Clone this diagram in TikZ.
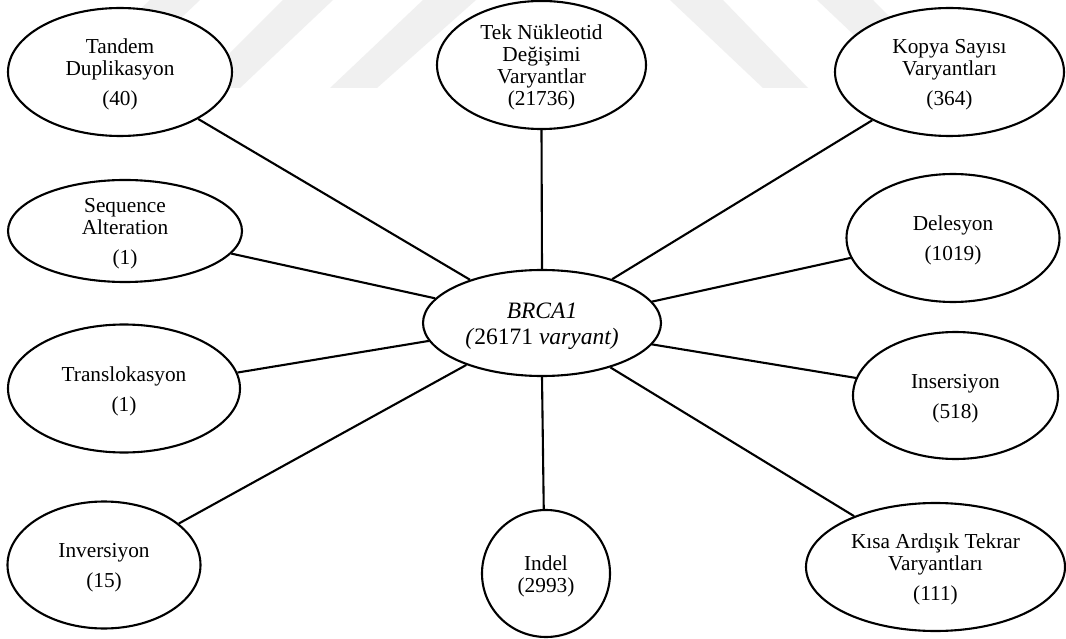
\documentclass[tikz,border=0pt]{standalone}
\usepackage{fontspec}
\setmainfont{Liberation Serif}
\usetikzlibrary{shapes.geometric}
\definecolor{wm}{HTML}{F0F0F0}
\newcommand{\firstline}{\rule{0pt}{20pt}}
\newcommand{\firstlinebig}{\rule{0pt}{23pt}}
\tikzset{
 oval/.style={ellipse,draw=black,line width=2.1pt,fill=white,inner sep=0pt,align=center,font=\fontsize{21.3}{22}\selectfont},
 bigoval/.style={oval,font=\fontsize{23.5}{26}\selectfont},
 link/.style={draw=black,line width=2.1pt},
 mark band/.style={fill=wm,draw=none},
}
\begin{document}
\begin{tikzpicture}[x=1pt,y=-1pt]
\useasboundingbox (0,0) rectangle (1066,639);
\fill[white] (0,0) rectangle (1066,639);
\fill[mark band] (150,0) -- (200,0) -- (107,88) -- (57,88) -- cycle;
\fill[mark band] (283,0) -- (333,0) -- (240,88) -- (195,88) -- cycle;
\fill[mark band] (423,0) -- (476,0) -- (377,88) -- (330,88) -- cycle;
\fill[mark band] (670,0) -- (723,0) -- (808,88) -- (763,88) -- cycle;
\fill[mark band] (817,0) -- (873,0) -- (960,88) -- (910,88) -- cycle;
\node[bigoval,minimum width=238pt,minimum height=106pt] (c) at (542,323) {\firstlinebig\textit{BRCA1}\\\textit{(}26171 \textit{varyant)}};
\node[oval,minimum width=224pt,minimum height=128pt] (a) at (120,72) {\firstline Tandem\\Duplikasyon\\[8pt](40)};
\node[oval,minimum width=209pt,minimum height=128pt] (b) at (541.5,65) {\firstline Tek Nükleotid\\Değişimi\\Varyantlar\\(21736)};
\node[oval,minimum width=229pt,minimum height=128pt] (d) at (949.5,72) {\firstline Kopya Sayısı\\Varyantları\\[8pt](364)};
\node[oval,minimum width=234pt,minimum height=102pt,inner ysep=-2.2pt] (e) at (125,231) {\firstline Sequence\\Alteration\\[8pt](1)};
\node[oval,minimum width=213pt,minimum height=128pt] (f) at (953,238) {\firstline Delesyon\\[8pt](1019)};
\node[oval,minimum width=232pt,minimum height=128pt] (g) at (124,388.5) {\firstline Translokasyon\\[8pt](1)};
\node[oval,minimum width=205pt,minimum height=127pt] (h) at (955.5,395.5) {\firstline Insersiyon\\[8pt](518)};
\node[oval,minimum width=193pt,minimum height=127pt] (i) at (104,565) {\firstline Inversiyon\\[8pt](15)};
\node[oval,minimum width=128pt,minimum height=127pt] (j) at (546,573.5) {\firstline Indel\\(2993)};
\node[oval,minimum width=259pt,minimum height=128pt] (k) at (935.5,567) {\firstline Kısa Ardışık Tekrar\\Varyantları\\[8pt](111)};
\draw[link] (c.149.2) -- (a.329.3);
\draw[link] (c.167.5) -- (e.348.2);
\draw[link] (c.90) -- (b.270);
\draw[link] (c.32.2) -- (d.212.1);
\draw[link] (c.11.5) -- (f.191.9);
\draw[link] (c.189) -- (g.8.9);
\draw[link] (c.209.6) -- (i.29.2);
\draw[link] (c.270) -- (j.92);
\draw[link] (c.349.9) -- (h.170);
\draw[link] (c.327.8) -- (k.148.5);
\end{tikzpicture}
\end{document}
